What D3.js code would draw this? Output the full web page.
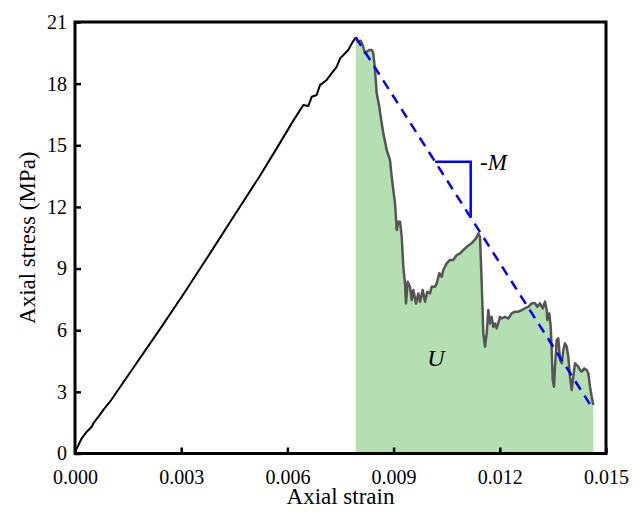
<!DOCTYPE html>
<html lang="en">
<head>
  <meta charset="UTF-8">
  <title>Axial stress-strain</title>
  <script src="https://d3js.org/d3.v7.min.js"></script>
  <style>
    body { margin: 0; background: #fff; }
    svg text { font-family: 'Liberation Serif', 'Times New Roman', serif; fill: #000; }
  </style>
</head>
<body>
<div id="chart"></div>
<script>
  // strain / stress (MPa) before the peak
  var preStrain = [0.00000, 0.00008, 0.000141, 0.000189, 0.000331, 0.000472, 0.000517, 0.000706, 0.0008, 0.000989,
    0.0016, 0.0024, 0.0031, 0.003814, 0.0045, 0.005226, 0.005697, 0.006167, 0.00645, 0.00659, 0.006686,
    0.006827, 0.00692, 0.00711, 0.00725, 0.00739, 0.00749, 0.00763, 0.00772, 0.00782, 0.00793];
  var preStress = [0.10, 0.35, 0.57, 0.74, 1.06, 1.30, 1.47, 1.89, 2.12, 2.52,
    4.05, 6.05, 7.85, 9.74, 11.58, 13.52, 14.85, 16.20, 16.96, 16.91, 17.36,
    17.45, 17.93, 18.18, 18.50, 18.82, 19.23, 19.48, 19.64, 19.96, 20.25];

  // strain / stress (MPa) after the peak
  var postStrain = [0.00793, 0.008003, 0.008071, 0.008127, 0.008192, 0.00824, 0.008314, 0.008381, 0.008427, 0.008475,
    0.008523, 0.008596, 0.008636, 0.008709, 0.008805, 0.008898, 0.008946, 0.008992, 0.00904, 0.009088,
    0.009133, 0.009181, 0.009229, 0.009274, 0.009322, 0.00935, 0.009398, 0.009463, 0.009511, 0.009557,
    0.009633, 0.009698, 0.009746, 0.009822, 0.009887, 0.009952, 0.010028, 0.010076, 0.01017, 0.010218,
    0.010291, 0.010359, 0.010404, 0.0105, 0.010593, 0.010687, 0.010783, 0.010876, 0.010969, 0.011065,
    0.011206, 0.011348, 0.011393, 0.011441, 0.011489, 0.011534, 0.011582, 0.01163, 0.011675, 0.011723,
    0.011771, 0.011817, 0.011864, 0.011912, 0.012006, 0.012054, 0.012147, 0.01224, 0.012336, 0.012429,
    0.012523, 0.012619, 0.012712, 0.012805, 0.012901, 0.012994, 0.013059, 0.013136, 0.013212, 0.013277,
    0.013325, 0.013342, 0.013398, 0.013438, 0.013466, 0.013495, 0.013531, 0.013559, 0.013607, 0.013653,
    0.013701, 0.013749, 0.013794, 0.013842, 0.01389, 0.013935, 0.013983, 0.014031, 0.014076, 0.014124,
    0.014172, 0.014218, 0.014266, 0.014313, 0.014379, 0.014455, 0.0145, 0.014548, 0.014596, 0.014642];
  var postStress = [20.25, 20.03, 20.09, 19.88, 19.48, 19.56, 19.64, 19.64, 19.48, 18.66,
    17.53, 16.88, 16.39, 15.58, 14.77, 14.28, 13.47, 12.82, 12.19, 10.88,
    11.28, 11.28, 10.55, 9.09, 8.28, 7.30, 8.36, 8.12, 7.47, 7.96,
    7.30, 7.79, 7.38, 7.96, 7.38, 7.87, 7.79, 8.12, 8.12, 8.28,
    8.77, 8.60, 8.93, 9.25, 9.42, 9.42, 9.66, 9.74, 9.90, 10.06,
    10.23, 10.52, 10.71, 10.55, 8.28, 5.85, 5.20, 5.85, 6.98, 6.33,
    6.65, 6.16, 6.33, 6.09, 6.65, 6.57, 6.65, 6.57, 6.82, 6.90,
    6.90, 6.98, 7.07, 7.14, 7.31, 7.31, 7.14, 7.31, 7.06, 7.39,
    6.98, 6.50, 6.82, 6.17, 5.04, 3.58, 3.25, 4.22, 5.52, 5.61,
    4.55, 4.39, 5.04, 5.36, 5.20, 4.71, 3.74, 3.09, 3.74, 4.39,
    4.31, 4.22, 4.06, 3.98, 4.14, 4.06, 3.90, 3.25, 2.76, 2.36];

  // softening modulus line and its slope marker
  var mLineStrain = [0.00793, 0.01465];
  var mLineStress = [20.25, 2.12];
  var triStrain = [0.01017, 0.011178, 0.011178];
  var triStress = [14.2, 14.2, 11.49];

  var xTicks = [0, 0.003, 0.006, 0.009, 0.012, 0.015];
  var yTicks = [0, 3, 6, 9, 12, 15, 18, 21];

  var W = 644, H = 516,
    MARGIN = {top: 22, right: 38, bottom: 62.5, left: 75},
    width = W - MARGIN.left - MARGIN.right,
    height = H - MARGIN.top - MARGIN.bottom;

  var svg = d3.select('#chart').append('svg')
    .attr('width', W)
    .attr('height', H);
  var g = svg.append('g')
    .attr('transform', 'translate(' + MARGIN.left + ',' + MARGIN.top + ')');

  var x = d3.scaleLinear().domain([0, 0.015]).range([0, width]);
  var y = d3.scaleLinear().domain([0, 21]).range([height, 0]);

  var pre = preStrain.map(function (d, i) { return [d, preStress[i]]; });
  var post = postStrain.map(function (d, i) { return [d, postStress[i]]; });

  var line = d3.line().x(function (d) { return x(d[0]); }).y(function (d) { return y(d[1]); });
  var area = d3.area()
    .x(function (d) { return x(d[0]); })
    .y0(y(0))
    .y1(function (d) { return y(d[1]); });

  // green area under the post-peak curve
  g.append('path')
    .datum(post)
    .attr('d', area)
    .attr('fill', '#b3dfb3');

  g.append('path')
    .datum(pre)
    .attr('d', line)
    .attr('fill', 'none')
    .attr('stroke', '#000')
    .attr('stroke-width', 2)
    .attr('stroke-linejoin', 'round');

  g.append('path')
    .datum(post)
    .attr('d', line)
    .attr('fill', 'none')
    .attr('stroke', '#555')
    .attr('stroke-width', 2.5)
    .attr('stroke-linejoin', 'round');

  // dashed line -M
  g.append('path')
    .datum(mLineStrain.map(function (d, i) { return [d, mLineStress[i]]; }))
    .attr('d', line)
    .attr('fill', 'none')
    .attr('stroke', '#0000ff')
    .attr('stroke-width', 2.5)
    .attr('stroke-dasharray', '10,7');

  g.append('path')
    .datum(triStrain.map(function (d, i) { return [d, triStress[i]]; }))
    .attr('d', line)
    .attr('fill', 'none')
    .attr('stroke', '#0000ff')
    .attr('stroke-width', 2.5);

  // axes, ticks pointing inward
  g.append('g')
    .attr('transform', 'translate(0,' + height + ')')
    .call(d3.axisBottom(x).tickValues(xTicks).tickFormat(d3.format('.3f')).tickSize(-6).tickPadding(16))
    .call(function (a) {
      a.select('.domain').remove();
      a.selectAll('line').attr('stroke', '#000').attr('stroke-width', 2.5);
      a.selectAll('text').style('font-size', '20px').attr('fill', '#000');
    });

  g.append('g')
    .call(d3.axisLeft(y).tickValues(yTicks).tickSize(-6).tickPadding(8))
    .call(function (a) {
      a.select('.domain').remove();
      a.selectAll('line').attr('stroke', '#000').attr('stroke-width', 2.5);
      a.selectAll('text').style('font-size', '20px').attr('fill', '#000');
    });

  // frame
  g.append('rect')
    .attr('width', width)
    .attr('height', height)
    .attr('fill', 'none')
    .attr('stroke', '#000')
    .attr('stroke-width', 3);

  // annotations
  var mLabel = g.append('text')
    .attr('x', x(0.01144))
    .attr('y', y(14.2) + 8)
    .style('font-size', '23px');
  mLabel.append('tspan').text('-');
  mLabel.append('tspan').style('font-style', 'italic').text('M');

  g.append('text')
    .attr('x', 436 - MARGIN.left)
    .attr('y', 366 - MARGIN.top)
    .attr('text-anchor', 'middle')
    .style('font-size', '24px')
    .style('font-style', 'italic')
    .text('U');

  // axis titles
  svg.append('text')
    .attr('x', MARGIN.left + width / 2)
    .attr('y', 504)
    .attr('text-anchor', 'middle')
    .style('font-size', '23px')
    .text('Axial strain');

  svg.append('text')
    .attr('transform', 'translate(35,' + (MARGIN.top + height / 2) + ') rotate(-90)')
    .attr('text-anchor', 'middle')
    .style('font-size', '23px')
    .text('Axial stress (MPa)');
</script>
</body>
</html>
